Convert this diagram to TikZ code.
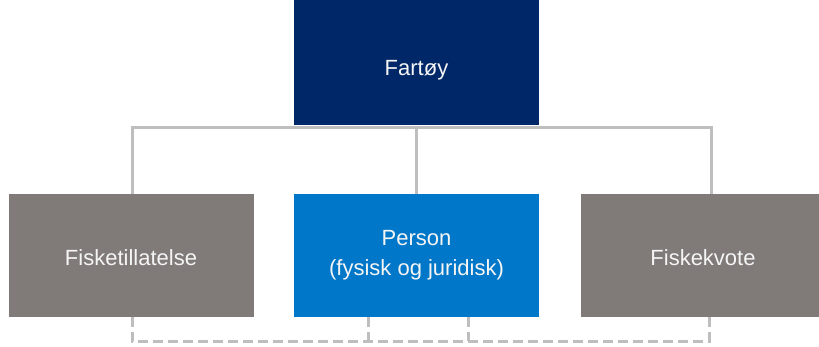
\documentclass[tikz,border=0pt]{standalone}
\usepackage{fontspec}
\setmainfont{Liberation Sans}
\definecolor{navy}{RGB}{0,40,104}
\definecolor{midblue}{RGB}{0,119,200}
\definecolor{boxgray}{RGB}{128,122,121}
\definecolor{linegray}{RGB}{190,190,190}
\definecolor{txt}{RGB}{245,245,245}
\newcommand{\lowertxt}[2]{\raisebox{-#1}[0pt][0pt]{#2}}
\begin{document}
\begin{tikzpicture}[x=1pt,y=-1pt,
  box/.style={draw=none,minimum width=245pt,minimum height=123pt,inner sep=0pt,
    text=txt,font=\fontsize{22}{30}\selectfont,align=center},
  conn/.style={draw=linegray,line width=3pt},
  dconn/.style={draw=linegray,line width=3pt,dash pattern=on 10pt off 5pt}]
\useasboundingbox (0,0) rectangle (819,346);
\node[box,fill=navy,minimum height=125pt] (fartoy) at (416.5,62.5) {\lowertxt{13pt}{Fartøy}};
\node[box,fill=boxgray] (fis) at (131,255.5) {\lowertxt{10pt}{Fisketillatelse}};
\node[box,fill=midblue] (person) at (416.5,255.5) {Person\\(fysisk og juridisk)};
\node[box,fill=boxgray] (kvote) at (703,255.5) {\lowertxt{10pt}{Fiskekvote}};
% solid bus
\coordinate (busL) at ([yshift=-2pt]fartoy.south -| fis.north);
\coordinate (kvTop) at ([xshift=8pt]kvote.north);
\draw[conn] ([xshift=1pt]fis.north) -- ([xshift=1pt]busL) -| (kvTop);
\draw[conn] (person.north) -- (person.north |- busL);
% dashed bus
\coordinate (dL) at ([xshift=1pt,yshift=-24pt]fis.south);
\coordinate (kvBot) at ([xshift=6pt]kvote.south);
\draw[dconn] ([xshift=1pt]fis.south) -- (dL) -| (kvBot);
\draw[dconn] ([xshift=-48.5pt]person.south) -- ([xshift=-48.5pt]person.south |- dL);
\draw[dconn] ([xshift=51.5pt]person.south) -- ([xshift=51.5pt]person.south |- dL);
\end{tikzpicture}
\end{document}
